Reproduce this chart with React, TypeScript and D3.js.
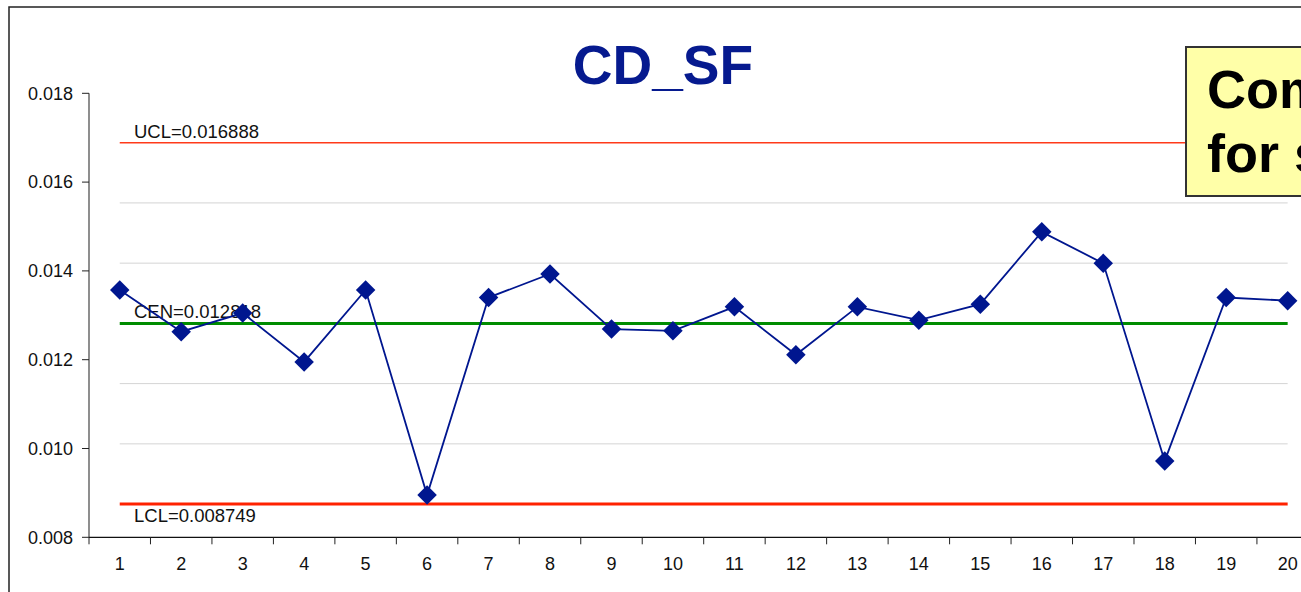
import React, { useEffect, useRef } from "react";
import * as d3 from "d3";

// subgroup numbers and CD_SF values
const samples = d3.range(1, 21);
const values = [
  0.01357, 0.01263, 0.01305, 0.01195, 0.01357, 0.00895, 0.0134, 0.01393, 0.01269, 0.01265,
  0.01319, 0.01211, 0.01319, 0.01289, 0.01325, 0.01488, 0.01417, 0.00972, 0.0134, 0.01333,
];
const UCL = 0.016888;
const CEN = 0.012818;
const LCL = 0.008749;
const yTicks = [0.008, 0.01, 0.012, 0.014, 0.016, 0.018];
const noteLines = ["Comments", "for shifts"];

export default function App() {
  const ref = useRef<SVGSVGElement>(null);
  useEffect(() => {
    const node = ref.current;
    if (!node) return;
    const svg = d3.select(node);
    svg.selectAll("*").remove();
    const W = 1301, H = 592;
    const font = "'Liberation Sans', Arial, sans-serif";
    const m = { l: 89, t: 93.3, b: 537.3 };

    const x = d3.scaleBand<number>().domain(samples).range([m.l, m.l + 20 * 61.47]).padding(0);
    const y = d3.scaleLinear().domain([0.008, 0.018]).range([m.b, m.t]);
    const cx = (d: number) => (x(d) as number) + x.bandwidth() / 2;
    const x0 = cx(1), x1 = cx(20);

    svg.attr("width", W).attr("height", H);
    svg.append("rect").attr("width", W).attr("height", H).attr("fill", "#fff");
    // chart frame
    svg.append("rect").attr("x", 9).attr("y", 7).attr("width", W + 20).attr("height", H + 20)
      .attr("fill", "none").attr("stroke", "#222").attr("stroke-width", 1.5);

    // title
    svg.append("text").attr("x", 663).attr("y", 84).attr("text-anchor", "middle")
      .attr("font-family", font).attr("font-weight", "bold").attr("font-size", 55)
      .attr("fill", "#061a8f").text("CD_SF");

    // sigma zone lines
    const sigma = (UCL - CEN) / 3;
    const zones = [CEN + 2 * sigma, CEN + sigma, CEN - sigma, CEN - 2 * sigma];
    svg.append("g").selectAll("line").data(zones).enter().append("line")
      .attr("x1", x0).attr("x2", x1).attr("y1", (d) => y(d)).attr("y2", (d) => y(d))
      .attr("stroke", "#d4d4d4").attr("stroke-width", 1);

    // control lines
    const ctrl = [
      { v: UCL, label: "UCL=0.016888", c: "#ff3a1a", w: 1.5, dy: -5 },
      { v: CEN, label: "CEN=0.012818", c: "#008c00", w: 3, dy: -5 },
      { v: LCL, label: "LCL=0.008749", c: "#ff2200", w: 3, dy: 18 },
    ];
    const cg = svg.append("g");
    ctrl.forEach((d) => {
      cg.append("line").attr("x1", x0).attr("x2", x1).attr("y1", y(d.v)).attr("y2", y(d.v))
        .attr("stroke", d.c).attr("stroke-width", d.w);
      cg.append("text").attr("x", 134).attr("y", y(d.v) + d.dy).attr("font-family", font)
        .attr("font-size", 18.5).attr("fill", "#111").text(d.label);
    });

    // axes
    const ax = svg.append("g").attr("font-family", font).attr("font-size", 18);
    ax.append("line").attr("x1", m.l).attr("x2", m.l).attr("y1", m.t).attr("y2", m.b)
      .attr("stroke", "#444").attr("stroke-width", 1.2);
    yTicks.forEach((t) => {
      ax.append("line").attr("x1", m.l - 7).attr("x2", m.l).attr("y1", y(t)).attr("y2", y(t))
        .attr("stroke", "#222");
      ax.append("text").attr("x", 73).attr("y", y(t)).attr("dy", "0.35em").attr("text-anchor", "end")
        .attr("fill", "#111").text(d3.format(".3f")(t));
    });
    ax.append("line").attr("x1", m.l).attr("x2", W + 10).attr("y1", m.b).attr("y2", m.b)
      .attr("stroke", "#111").attr("stroke-width", 1.2);
    samples.forEach((s) => {
      const bx = x(s) as number;
      ax.append("line").attr("x1", bx).attr("x2", bx).attr("y1", m.b).attr("y2", m.b + 7).attr("stroke", "#222");
      ax.append("text").attr("x", cx(s)).attr("y", 570).attr("text-anchor", "middle")
        .attr("fill", "#111").text(String(s));
    });

    // series
    const pts = samples.map((s, i) => [cx(s), y(values[i])] as [number, number]);
    svg.append("path").attr("d", d3.line()(pts)).attr("fill", "none")
      .attr("stroke", "#00168f").attr("stroke-width", 1.8);
    const sym = d3.symbol().type(d3.symbolSquare).size(190);
    svg.append("g").selectAll("path").data(pts).enter().append("path")
      .attr("d", sym() as string)
      .attr("transform", (d) => `translate(${d[0]},${d[1]}) rotate(45)`)
      .attr("fill", "#00168f");

    // note box (cut off by the right edge, as in the source)
    const note = svg.append("g");
    note.append("rect").attr("x", 1186).attr("y", 47).attr("width", 200).attr("height", 149)
      .attr("fill", "#ffffa8").attr("stroke", "#333").attr("stroke-width", 2);
    noteLines.forEach((t, i) => {
      note.append("text").attr("x", 1207).attr("y", 108 + i * 64).attr("font-family", font)
        .attr("font-weight", "bold").attr("font-size", 54).attr("fill", "#000").text(t);
    });
  }, []);
  return <svg ref={ref} style={{ position: "absolute", left: 0, top: 0, display: "block" }} />;
}
